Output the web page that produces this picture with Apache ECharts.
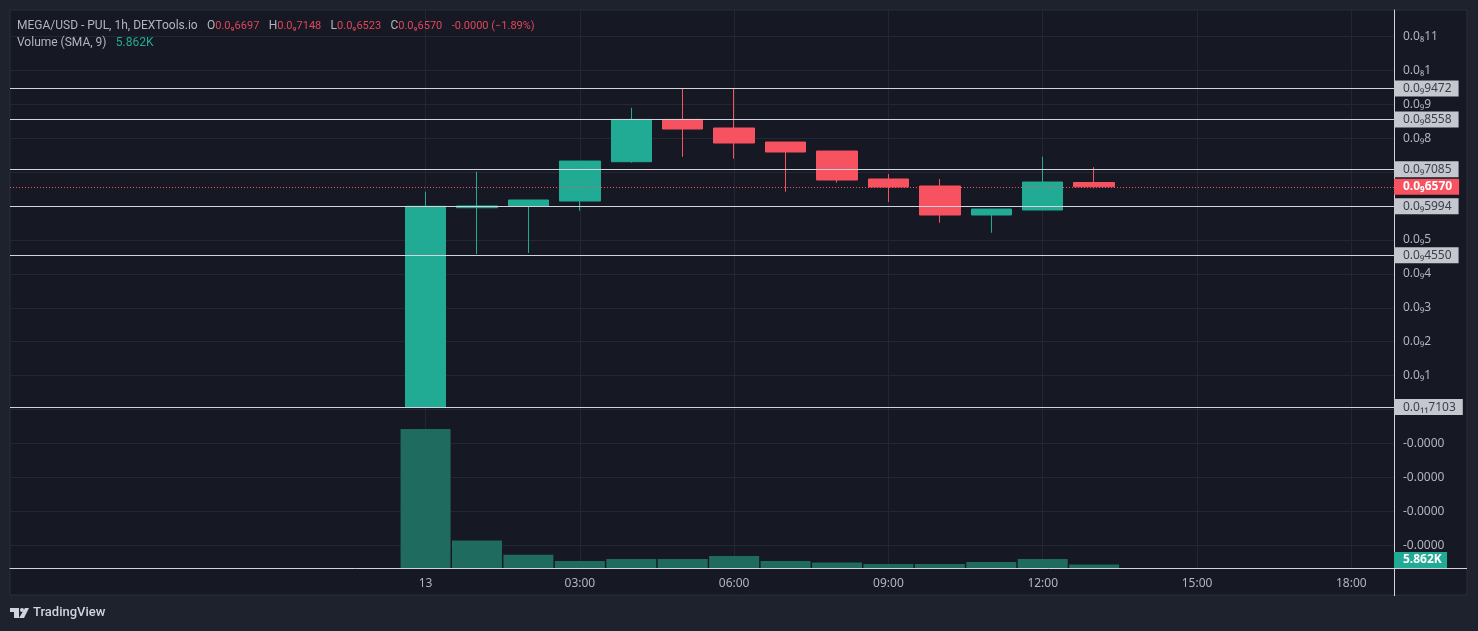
<!DOCTYPE html>
<html>
<head>
<meta charset="utf-8">
<style>
  html, body { margin: 0; padding: 0; background: #1e222d; }
  #chart { width: 1478px; height: 631px; }
</style>
<script src="https://cdn.jsdelivr.net/npm/echarts@6/dist/echarts.min.js"></script>
</head>
<body>
<div id="chart"></div>
<script>
// prices are in units of 0.0₉1 (1e-10), hours count from the 13th 00:00
var hours = [0, 1, 2, 3, 4, 5, 6, 7, 8, 9, 10, 11, 12, 13];
var opens = [0.071, 5.953, 5.994, 6.15, 7.31, 8.558, 8.304, 7.89, 7.625, 6.8, 6.593, 5.737, 5.885, 6.697];
var closes = [5.994, 6.003, 6.18, 7.33, 8.558, 8.274, 7.861, 7.596, 6.77, 6.563, 5.737, 5.914, 6.711, 6.57];
var lows = [0.071, 4.587, 4.617, 5.864, 7.28, 7.457, 7.398, 6.425, 6.69, 6.121, 5.51, 5.215, 5.885, 6.523];
var highs = [6.425, 7.015, 6.18, 7.33, 8.9, 9.484, 9.454, 7.89, 7.625, 6.947, 6.799, 5.914, 7.457, 7.148];
var volumes = [233, 46, 22, 11.7, 15, 15, 20, 11.7, 9.2, 6.7, 6.7, 10, 15, 5.862];

var timeTicks = [0, 3, 6, 9, 12, 15, 18];
var timeLabels = ['13', '03:00', '06:00', '09:00', '12:00', '15:00', '18:00'];

var priceTicks = [-4, -3, -2, -1, 0, 1, 2, 3, 4, 5, 6, 7, 8, 9, 10, 11];
var priceLabelValues = [-4, -3, -2, -1, 1, 2, 3, 4, 5, 8, 9, 10, 11];
var priceLabels = ['-0.0000', '-0.0000', '-0.0000', '-0.0000', '0.0₉1', '0.0₉2', '0.0₉3', '0.0₉4', '0.0₉5', '0.0₉8', '0.0₉9', '0.0₈1', '0.0₈11'];

var levels = [9.472, 8.558, 7.085, 5.994, 4.55, 0.07103];
var levelLabels = ['0.0₉9472', '0.0₉8558', '0.0₉7085', '0.0₉5994', '0.0₉4550', '0.0₁₁7103'];
var lastPrice = 6.57;
var lastPriceLabel = '0.0₉6570';
var lastVolumeLabel = '5.862K';

var UP = '#22ab94';
var DOWN = '#f7525f';
var TEXT = '#b2b5be';
var GRID = '#242733';
var WHITE = '#d1d4dc';
var FONT = '"Noto Sans", sans-serif';
var HEAD_FONT = 'Roboto, sans-serif';

var myChart = echarts.init(document.getElementById('chart'));

function headStyle(color, size) {
  return { color: color, fontSize: size, fontWeight: 'normal', fontFamily: HEAD_FONT };
}

var option = {
  animation: false,
  backgroundColor: '#1e222d',
  textStyle: { fontFamily: FONT },
  grid: { left: 10, right: 84, top: 10, bottom: 63 },
  title: [{
    left: 17,
    top: 17,
    padding: 0,
    text: '{n|MEGA/USD - PUL, 1h, DEXTools.io}  {n|O}{r|0.0₉6697}  {n|H}{r|0.0₉7148}  {n|L}{r|0.0₉6523}  {n|C}{r|0.0₉6570}  {r|-0.0000 (−1.89%)}',
    textStyle: {
      fontWeight: 'normal',
      rich: { n: headStyle(TEXT, 12), r: headStyle('#e0475a', 11) }
    }
  }, {
    left: 17,
    top: 34,
    padding: 0,
    text: '{n|Volume (SMA, 9)}  {g|5.862K}',
    textStyle: {
      fontWeight: 'normal',
      rich: { n: headStyle(TEXT, 12), g: headStyle(UP, 12) }
    }
  }],
  xAxis: {
    type: 'value',
    min: -8.08,
    max: 18.83,
    axisLine: { show: true, onZero: false, lineStyle: { color: WHITE, width: 1 } },
    axisTick: { show: false, customValues: timeTicks },
    splitLine: { show: true, lineStyle: { color: GRID, width: 1 } },
    axisLabel: {
      color: TEXT,
      fontSize: 12,
      margin: 8,
      padding: [2, 0, 0, 0],
      customValues: timeTicks,
      formatter: function (value) {
        return timeLabels[timeTicks.indexOf(value)];
      }
    }
  },
  yAxis: [{
    type: 'value',
    position: 'right',
    min: -4.675,
    max: 11.785,
    axisLine: { show: true, onZero: false, lineStyle: { color: WHITE, width: 1 } },
    axisTick: { show: false, customValues: priceTicks },
    splitLine: { show: true, lineStyle: { color: GRID, width: 1 } },
    axisLabel: {
      color: TEXT,
      fontSize: 12,
      margin: 9,
      padding: [2, 0, 0, 0],
      customValues: priceLabelValues,
      formatter: function (value) {
        return priceLabels[priceLabelValues.indexOf(value)];
      }
    }
  }, {
    // volume scale, hidden: the tall bar only reaches a quarter of the pane
    type: 'value',
    min: 0,
    max: 934.65,
    show: false,
    splitLine: { show: false }
  }],
  series: [
    {
      name: 'Volume',
      type: 'bar',
      yAxisIndex: 1,
      z: 1,
      barWidth: 50,
      data: hours.map(function (h, i) { return [h, volumes[i]]; }),
      itemStyle: { color: '#1f6b5f' }
    },
    {
      name: 'Levels',
      type: 'line',
      z: 2,
      data: [],
      markLine: {
        silent: true,
        symbol: 'none',
        animation: false,
        precision: 5,
        lineStyle: { color: WHITE, width: 1, type: 'solid' },
        label: {
          show: true,
          position: 'end',
          distance: 0,
          color: '#3a3e4a',
          fontSize: 12,
          fontFamily: FONT,
          backgroundColor: '#c5c7cf',
          padding: [2, 7, 2, 9]
        },
        data: levels.map(function (v, i) {
          return { yAxis: v, label: { formatter: levelLabels[i] } };
        })
      }
    },
    {
      name: 'MEGA/USD',
      type: 'candlestick',
      z: 3,
      barWidth: 41,
      encode: { x: 0, y: [1, 2, 3, 4] },
      data: hours.map(function (h, i) {
        return [h, opens[i], closes[i], lows[i], highs[i]];
      }),
      itemStyle: {
        color: UP,
        color0: DOWN,
        borderColor: UP,
        borderColor0: DOWN,
        borderWidth: 1
      }
    },
    {
      name: 'Last',
      type: 'line',
      z: 4,
      data: [],
      markLine: {
        silent: true,
        symbol: 'none',
        animation: false,
        lineStyle: { color: DOWN, width: 1, type: [1, 2] },
        label: {
          show: true,
          position: 'end',
          distance: 0,
          color: '#ffffff',
          fontWeight: 'bold',
          fontSize: 12,
          fontFamily: FONT,
          backgroundColor: DOWN,
          padding: [2, 7, 2, 9],
          formatter: lastPriceLabel
        },
        data: [{ yAxis: lastPrice }]
      }
    }
  ],
  graphic: [
    // pane behind the plot
    { type: 'rect', z: -10, silent: true, shape: { x: 10, y: 10, width: 1457, height: 585 },
      style: { fill: '#161823', stroke: '#2a2e39', lineWidth: 1 } },
    // axis lines run on past the plot area
    { type: 'line', z: 5, silent: true, shape: { x1: 1394.5, y1: 568, x2: 1394.5, y2: 596 },
      style: { stroke: WHITE, lineWidth: 1 } },
    { type: 'line', z: 5, silent: true, shape: { x1: 1394, y1: 568.5, x2: 1467, y2: 568.5 },
      style: { stroke: WHITE, lineWidth: 1 } },
    // volume tag
    { type: 'rect', z: 6, silent: true, shape: { x: 1394, y: 552, width: 53, height: 16 },
      style: { fill: UP } },
    { type: 'text', z: 7, silent: true, x: 1403, y: 560,
      style: { text: lastVolumeLabel, fill: '#ffffff', font: 'bold 12px ' + FONT, verticalAlign: 'middle' } },
    // TradingView mark
    { type: 'polygon', z: 7, silent: true,
      shape: { points: [[10, 608], [19, 608], [19, 618], [14, 618], [14, 612], [10, 612]] },
      style: { fill: WHITE } },
    { type: 'circle', z: 7, silent: true, shape: { cx: 22, cy: 610, r: 2 }, style: { fill: WHITE } },
    { type: 'polygon', z: 7, silent: true,
      shape: { points: [[25, 608], [29, 608], [24, 618], [19, 618]] },
      style: { fill: WHITE } },
    { type: 'text', z: 7, silent: true, x: 33, y: 613,
      style: { text: 'TradingView', fill: WHITE, font: '500 13px ' + HEAD_FONT, verticalAlign: 'middle' } }
  ]
};

myChart.setOption(option);
</script>
</body>
</html>
